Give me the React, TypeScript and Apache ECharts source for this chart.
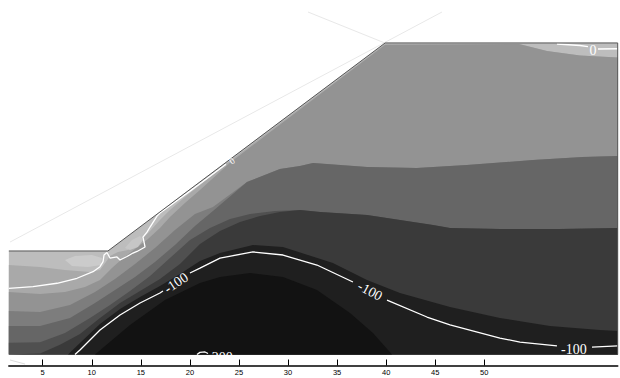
import React, { useEffect, useRef } from "react";
import * as echarts from "echarts";

// ---- axis ----
const X_TICKS = [5, 10, 15, 20, 25, 30, 35, 40, 45, 50];
const X_MIN = 1.55;
const X_MAX = 63.6;
const Y_MIN = -1.12;
const Y_MAX = 35.6;
const Y_BOTTOM = 0;

// ---- geometry (metres) ----
const SOIL = [[1.55, 0], [1.55, 10.55], [11.65, 10.55], [39.9, 31.75], [63.6, 31.75], [63.6, 0]];
const OUTLINE = [[1.55, 10.55], [11.65, 10.55], [39.9, 31.75], [63.6, 31.75], [63.6, 0]];
const FAINT_1 = [[1.67, 11.46], [45.69, 34.9]];
const FAINT_2 = [[32.04, 34.9], [39.88, 31.74]];
const FAINT_3 = [[1.67, -0.56], [3.2, -0.97]];

// ---- filled contour boundaries ----
const BLOB_A = [[7.27, 9.63], [8.29, 10.04], [10.02, 10.14], [11.04, 9.83], [10.94, 9.12], [9.62, 8.92], [7.99, 9.02]];
const BLOB_B = [[13.39, 10.85], [14.1, 11.67], [14.92, 12.07], [15.22, 11.67], [14.71, 10.96], [13.9, 10.65]];
const BND_2 = [[1.55, 9.12], [4.73, 8.92], [7.27, 8.61], [9.82, 8.41], [10.84, 8.61], [11.45, 9.43], [11.86, 10.04], [12.67, 10.45], [13.69, 10.65], [14.92, 11.57], [15.94, 12.59], [16.95, 13.71], [17.97, 14.73], [19.5, 16.05], [21.03, 17.27], [24.09, 19.72], [28.16, 22.8], [31.22, 25.1], [35.3, 28.16], [39.88, 31.65], [53.54, 31.64], [56.39, 30.93], [59.76, 30.47], [63.6, 30.27]];
const BND_3 = [[1.55, 6.37], [4.73, 6.17], [7.27, 6.37], [9.31, 6.88], [10.84, 7.59], [12.06, 8.81], [13.08, 9.73], [14.41, 10.75], [15.73, 11.77], [16.95, 12.89], [17.97, 14.01], [19.5, 15.44], [21.03, 16.76], [24.09, 19.55], [28.16, 22.65], [31.22, 24.98], [35.3, 28.07], [39.88, 31.55], [53.54, 31.64], [56.39, 30.93], [59.76, 30.47], [63.6, 30.27]];
const BND_4 = [[1.55, 4.43], [4.73, 4.33], [7.78, 5.04], [10.33, 6.37], [12.37, 7.69], [14.41, 9.22], [16.44, 10.85], [18.48, 12.69], [20.52, 14.32], [22.35, 15.03], [25.82, 17.58], [29.18, 18.9], [31.22, 19.21], [32.55, 19.52], [35.3, 19.31], [38.05, 19.11], [43.14, 19.01], [48.24, 19.31], [54.97, 19.82], [60.06, 20.13], [63.6, 20.23]];
const BND_5 = [[1.55, 2.9], [4.73, 2.9], [7.78, 3.72], [10.33, 5.25], [12.37, 6.57], [14.41, 7.9], [16.44, 9.43], [18.48, 11.16], [20.52, 13.1], [22.35, 14.62], [25.82, 17.58], [29.18, 18.9], [31.22, 19.21], [32.55, 19.52], [35.3, 19.31], [38.05, 19.11], [43.14, 19.01], [48.24, 19.31], [54.97, 19.82], [60.06, 20.13], [63.6, 20.23]];
const BND_6 = [[1.55, 1.2], [4.73, 1.25], [7.27, 2.19], [9.82, 3.72], [11.86, 5.04], [13.9, 6.47], [15.94, 8.0], [17.97, 9.83], [20.01, 11.67], [22.05, 12.89], [24.09, 13.81], [26.13, 14.32], [28.67, 14.62], [31.22, 14.73], [33.26, 14.52], [38.05, 14.22], [41.41, 13.71], [44.77, 13.2], [46.51, 12.89], [51.6, 12.79], [57.72, 12.79], [63.6, 12.89]];
const BND_7 = [[1.55, 0], [4.73, 0.1], [6.76, 1.0], [8.8, 2.09], [10.84, 3.72], [12.88, 5.25], [14.92, 6.47], [16.95, 7.69], [18.99, 9.22], [21.03, 11.26], [23.07, 12.59], [25.11, 13.5], [27.15, 14.11], [29.18, 14.52], [31.22, 14.73], [33.26, 14.52], [38.05, 14.22], [41.41, 13.71], [44.77, 13.2], [46.51, 12.89], [51.6, 12.79], [57.72, 12.79], [63.6, 12.89]];
const BND_8 = [[7.58, 0], [8.8, 1.17], [10.84, 3.11], [12.88, 4.64], [14.92, 5.86], [16.95, 6.98], [18.99, 8.2], [21.03, 9.53], [23.07, 10.34], [26.43, 11.16], [29.49, 10.96], [34.58, 9.32], [38.05, 7.59], [41.41, 6.27], [46.51, 4.84], [51.6, 3.72], [56.7, 2.9], [61.79, 2.5], [63.6, 2.39]];
const CORE = [[10.33, 0], [13.9, 3.01], [17.46, 5.55], [21.03, 7.29], [23.07, 7.9], [26.13, 8.31], [29.49, 7.9], [32.95, 6.57], [36.32, 4.23], [38.66, 2.19], [40.6, 0]];

const BANDS = [SOIL, BND_2, BND_3, BLOB_A, BLOB_B, BND_4, BND_5, BND_6, BND_7, BND_8, CORE];
const BAND_OPEN = [false, true, true, false, false, true, true, true, true, true, false];
const BAND_FILLS = ["#bdbdbd", "#a9a9a9", "#939393", "#cbcbcb", "#c6c6c6", "#7d7d7d", "#666666", "#505050", "#3a3a3a", "#1f1f1f", "#121212"];

// ---- contour lines ----
const M100_A = [[8.29, 0], [8.8, 0.46], [10.84, 2.5], [12.88, 4.03], [14.92, 5.25], [16.95, 6.27], [17.26, 6.47]];
const M100_B = [[20.01, 8.31], [21.03, 8.81], [23.07, 9.83], [26.43, 10.45], [29.49, 10.14], [32.95, 9.12], [36.62, 7.39]];
const M100_C = [[40.09, 5.55], [44.16, 3.82], [46.51, 3.01], [51.6, 1.68], [53.64, 1.27], [57.41, 0.87]];
const M100_D = [[60.98, 0.76], [63.6, 0.87]];
const ZERO_R1 = [[57.41, 31.64], [59.76, 31.49], [60.57, 31.37]];
const ZERO_R2 = [[61.59, 31.13], [63.6, 31.16]];
const ZERO_L = [[1.55, 6.73], [4.01, 6.91], [6.46, 7.26], [8.5, 7.77], [10.13, 8.44], [10.84, 8.95], [11.15, 9.46], [11.25, 10.14], [11.55, 10.39], [11.86, 9.83], [12.57, 9.94], [12.88, 9.63], [13.59, 9.99], [14.2, 10.34], [14.61, 10.5], [15.43, 10.96], [15.22, 11.97], [15.63, 12.48], [15.94, 12.99], [16.65, 14.11], [16.95, 14.42], [17.97, 15.15], [20.01, 16.65], [22.05, 18.17], [23.68, 19.38]];
const M200 = [[20.72, 0], [21.03, 0.22], [21.54, 0.26], [21.85, 0.1]];
const CONTOURS = [M100_A, M100_B, M100_C, M100_D, ZERO_R1, ZERO_R2, ZERO_L, M200];

// ---- contour labels ----
const LABEL_POS = [[18.59, 7.29], [38.36, 6.47], [59.14, 0.51], [61.08, 30.98], [24.29, 19.72], [23.07, -0.3]];
const LABEL_TEXT = ["-100", "-100", "-100", "0", "0", "-200"];
const LABEL_ROT = [0.59, -0.49, 0, 0, 0.64, 0];
const LABEL_SIZE = [14, 14, 14, 14, 9, 14];

export default function App() {
  const ref = useRef<HTMLDivElement>(null);
  useEffect(() => {
    if (!ref.current) return;
    const chart = echarts.init(ref.current, null, { renderer: "svg" });
    const lineSeries = (data: number[][], color: string, width: number, z: number) => ({
      type: "line",
      data,
      showSymbol: false,
      symbol: "none",
      silent: true,
      z,
      lineStyle: { color, width },
    });
    const option: any = {
      animation: false,
      backgroundColor: "#ffffff",
      grid: { left: 8.84, right: 2.3, top: 5.16, bottom: 12.5, containLabel: false, outerBoundsMode: "none" },
      xAxis: {
        type: "value",
        min: X_MIN,
        max: X_MAX,
        z: 10,
        splitLine: { show: false },
        axisLine: { show: true, onZero: false, lineStyle: { color: "#000", width: 1.6 } },
        axisTick: { show: true, inside: true, length: 6, customValues: X_TICKS, lineStyle: { color: "#000", width: 1 } },
        axisLabel: { customValues: X_TICKS, fontSize: 7.5, color: "#000", margin: 3, fontFamily: "Liberation Sans" },
      },
      yAxis: { type: "value", min: Y_MIN, max: Y_MAX, show: false },
      series: [
        lineSeries(FAINT_1, "#e8e8e8", 1, 1),
        lineSeries(FAINT_2, "#e8e8e8", 1, 1),
        {
          type: "custom",
          coordinateSystem: "cartesian2d",
          silent: true,
          z: 2,
          data: BANDS.map((b, i) => [b[0][0], b[0][1], i]),
          encode: { x: 0, y: 1 },
          renderItem: (params: any, api: any) => {
            const i = params.dataIndex;
            const pts = BANDS[i];
            let poly = pts.slice();
            if (BAND_OPEN[i]) {
              poly = poly.concat([[pts[pts.length - 1][0], Y_BOTTOM], [pts[0][0], Y_BOTTOM]]);
            }
            return {
              type: "polygon",
              shape: { points: poly.map((p) => api.coord(p)) },
              style: { fill: BAND_FILLS[i] },
            };
          },
        },
        ...CONTOURS.map((c) => lineSeries(c, "#ffffff", 1.3, 3)),
        lineSeries(OUTLINE, "#555555", 1, 3),
        {
          type: "custom",
          coordinateSystem: "cartesian2d",
          silent: true,
          z: 4,
          data: LABEL_POS.map((p, i) => [p[0], p[1], i]),
          encode: { x: 0, y: 1 },
          renderItem: (params: any, api: any) => {
            const i = params.dataIndex;
            const pt = api.coord(LABEL_POS[i]);
            return {
              type: "text",
              x: pt[0],
              y: pt[1],
              rotation: LABEL_ROT[i],
              style: {
                text: LABEL_TEXT[i],
                fill: "#ffffff",
                fontSize: LABEL_SIZE[i],
                fontFamily: "Liberation Serif",
                align: "center",
                verticalAlign: "middle",
              },
            };
          },
        },
        {
          type: "custom",
          coordinateSystem: "cartesian2d",
          silent: true,
          z: 5,
          data: [[X_MIN, 0]],
          encode: { x: 0, y: 1 },
          renderItem: (params: any, api: any) => {
            const a = api.coord([X_MIN, Y_BOTTOM]);
            const b = api.coord([X_MAX, Y_MIN]);
            return {
              type: "rect",
              shape: { x: a[0] - 2, y: a[1] + 0.5, width: b[0] - a[0] + 4, height: b[1] - a[1] },
              style: { fill: "#ffffff" },
            };
          },
        },
        lineSeries(FAINT_3, "#dcdcdc", 1, 6),
      ],
    };
    chart.setOption(option);
    return () => chart.dispose();
  }, []);
  return <div ref={ref} style={{ position: "absolute", left: 0, top: 0, width: 620, height: 378 }} />;
}
